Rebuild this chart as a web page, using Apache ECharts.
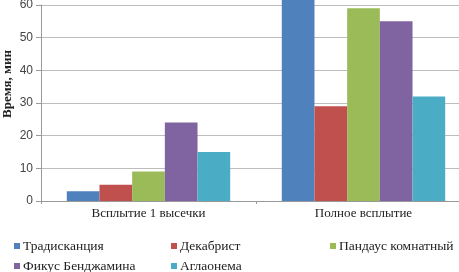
<!DOCTYPE html>
<html>
<head>
<meta charset="utf-8">
<script src="https://cdn.jsdelivr.net/npm/echarts@6/dist/echarts.min.js"></script>
<style>html,body{margin:0;padding:0;background:#fff}#c{width:459px;height:272px}</style>
</head>
<body>
<div id="c"></div>
<script>
var categories = ['Всплытие 1 высечки', 'Полное всплытие'];
var seriesNames = ['Традисканция', 'Декабрист', 'Пандаус комнатный', 'Фикус Бенджамина', 'Аглаонема'];
var tradescantia = [3, 65];
var dekabrist = [5, 29];
var pandanus = [9, 59];
var ficus = [24, 55];
var aglaonema = [15, 32];
var yTicks = [0, 10, 20, 30, 40, 50, 60];

var colors = ['#4f81bd', '#c0504d', '#9bbb59', '#8064a2', '#4bacc6'];
var values = [tradescantia, dekabrist, pandanus, ficus, aglaonema];
var serif = '"Liberation Serif", "DejaVu Serif", serif';

var legendPos = [
  {left: 14, top: 239},
  {left: 171, top: 239},
  {left: 330, top: 239},
  {left: 14, top: 259},
  {left: 171, top: 259}
];

var chart = echarts.init(document.getElementById('c'));
chart.setOption({
  animation: false,
  color: colors,
  grid: {left: 41, width: 430, top: 5, height: 196, containLabel: false, outerBoundsMode: 'none'},
  legend: seriesNames.map(function (n, i) {
    return {
      data: [n], left: legendPos[i].left, top: legendPos[i].top,
      itemWidth: 6, itemHeight: 6, itemGap: 0, icon: 'rect',
      padding: 0,
      textStyle: {fontFamily: serif, fontSize: 13.5, color: '#222', padding: [0, 0, 0, -2]}
    };
  }),
  xAxis: {
    type: 'category', data: categories,
    axisLine: {lineStyle: {color: '#999'}},
    axisTick: {show: true, alignWithLabel: false, length: 3, lineStyle: {color: '#999'}},
    axisLabel: {fontFamily: serif, fontSize: 13, color: '#222', margin: 6}
  },
  yAxis: {
    type: 'value', min: yTicks[0], max: yTicks[yTicks.length - 1], interval: 10,
    name: 'Время, мин', nameLocation: 'middle', nameGap: 27, nameRotate: 90,
    nameMoveOverlap: false,
    nameTextStyle: {fontFamily: serif, fontSize: 13, fontWeight: 'bold', color: '#222', padding: [0, 0, 0, 38]},
    axisLine: {show: true, lineStyle: {color: '#999'}},
    axisTick: {show: true, length: 5, lineStyle: {color: '#999'}},
    axisLabel: {fontFamily: '"Liberation Sans", Arial, sans-serif', fontSize: 12, color: '#444', margin: 8},
    splitLine: {lineStyle: {color: '#bdbdbd', width: 1}}
  },
  series: seriesNames.map(function (n, i) {
    return {
      name: n, type: 'bar', data: values[i], clip: false,
      barGap: '0%', barCategoryGap: '24%',
      itemStyle: {color: colors[i]}
    };
  })
});
</script>
</body>
</html>
